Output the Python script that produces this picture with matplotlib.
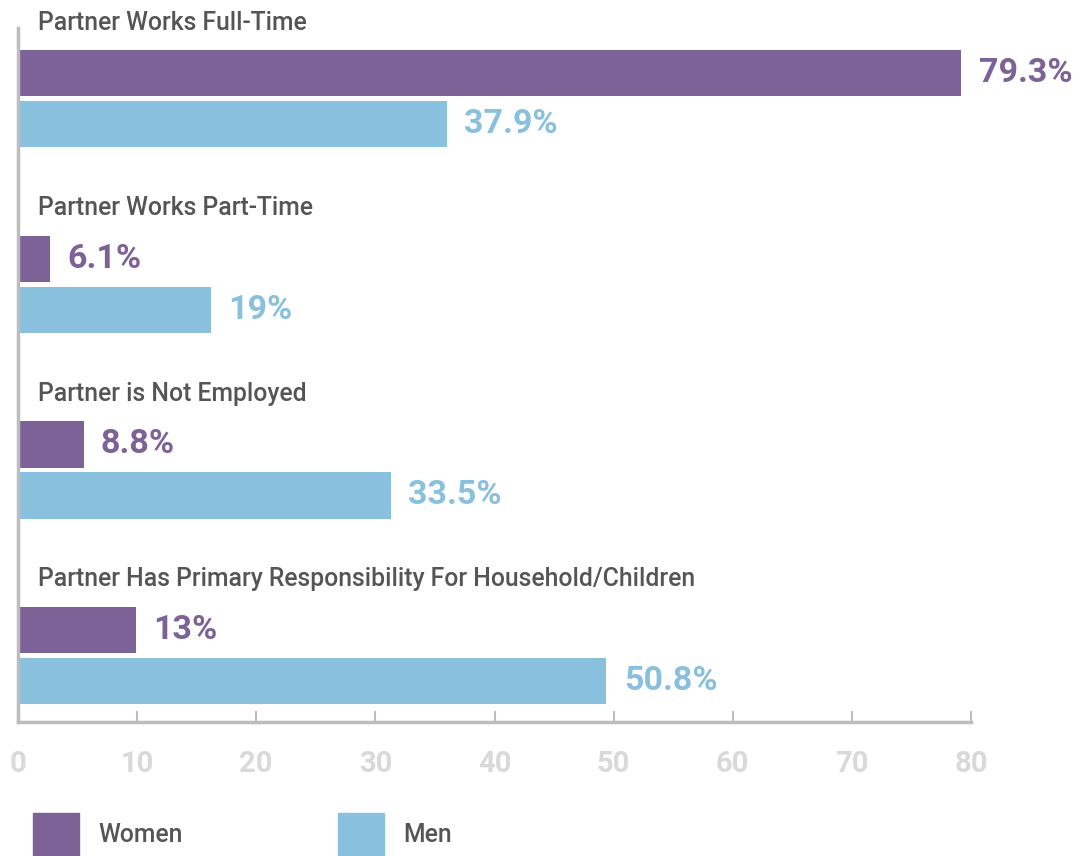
import matplotlib.pyplot as plt
from matplotlib.patches import Rectangle

# categories and values
categories = ['Partner Works Full-Time', 'Partner Works Part-Time',
              'Partner is Not Employed',
              'Partner Has Primary Responsibility For Household/Children']
women_labels = ['79.3%', '6.1%', '8.8%', '13%']
men_labels = ['37.9%', '19%', '33.5%', '50.8%']
# bar lengths as drawn in the chart (they do not match the printed labels)
women_bars = [79.2, 2.7, 5.5, 9.9]
men_bars = [36.0, 16.2, 31.3, 49.4]
x_ticks = [0, 10, 20, 30, 40, 50, 60, 70, 80]

purple = '#7D6298'
blue = '#89C0DE'
grey_text = '#555555'
axis_grey = '#BDBDBD'

plt.rcParams['font.family'] = ['Roboto', 'DejaVu Sans']

fig = plt.figure(figsize=(10.91, 8.56), dpi=100)
W, H = 1091, 856
# axes spans x 18..971 px, y 28..722 px
ax = fig.add_axes([18 / W, 1 - 722 / H, (971 - 18) / W, (722 - 28) / H])

pitch = 4.0
women_y = [0.974 + pitch * i for i in range(len(categories))]
men_y = [y + 1.1 for y in women_y]

ax.barh(women_y, women_bars, height=1.0, color=purple)
ax.barh(men_y, men_bars, height=1.0, color=blue)

for i, cat in enumerate(categories):
    ax.text(1.68, women_y[i] - 1.09, cat, fontsize=17.8, color=grey_text,
            fontweight='medium', va='center', ha='left', clip_on=False)
    ax.annotate(women_labels[i], (women_bars[i], women_y[i]), xytext=(12.5, 0),
                textcoords='offset points', va='center', ha='left',
                fontsize=24.5, fontweight='bold', color=purple)
    ax.annotate(men_labels[i], (men_bars[i], men_y[i]), xytext=(12.5, 0),
                textcoords='offset points', va='center', ha='left',
                fontsize=24.5, fontweight='bold', color=blue)

ax.set_xlim(0, 80)
ax.set_ylim(14.96, 0)
ax.set_xticks(x_ticks)
ax.set_xticklabels([str(t) for t in x_ticks])
ax.set_yticks([])
ax.tick_params(axis='x', direction='in', length=8, width=1.5, color=axis_grey,
               labelsize=21, labelcolor='#D9D9D9', pad=20)
for lab in ax.get_xticklabels():
    lab.set_fontweight('bold')

for side in ['top', 'right']:
    ax.spines[side].set_visible(False)
for side in ['left', 'bottom']:
    ax.spines[side].set_color(axis_grey)
    ax.spines[side].set_linewidth(2.5)

# legend
fig.patches.append(Rectangle((33 / W, 0), 46 / W, 43 / H, color=purple,
                             transform=fig.transFigure))
fig.patches.append(Rectangle((338 / W, 0), 46 / W, 43 / H, color=blue,
                             transform=fig.transFigure))
fig.text(98 / W, 1 - 835 / H, 'Women', fontsize=17.8, color=grey_text,
         fontweight='medium', va='center', ha='left')
fig.text(403 / W, 1 - 835 / H, 'Men', fontsize=17.8, color=grey_text,
         fontweight='medium', va='center', ha='left')

fig.savefig('out.png', dpi=100, facecolor='white')
